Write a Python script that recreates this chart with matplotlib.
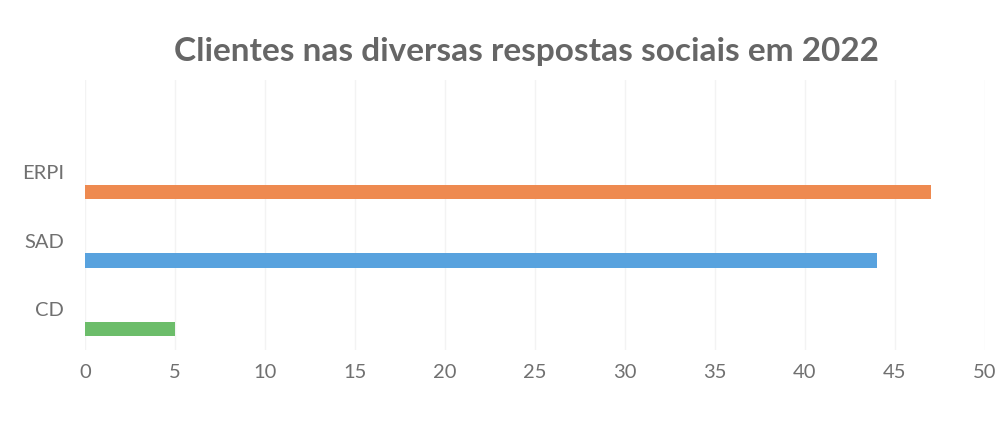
import numpy as np
import matplotlib.pyplot as plt

# data
categorias = ['CD', 'SAD', 'ERPI']
clientes = [5, 44, 47]
cores = ['#6CBD6A', '#58A2DE', '#EE8A50']
x_ticks = list(range(0, 55, 5))

plt.rcParams['font.family'] = ['Lato', 'DejaVu Sans']

fig = plt.figure(figsize=(9.99, 4.45), dpi=100)
ax = fig.add_axes([85 / 999, 1 - 350 / 445, (985 - 85) / 999, 270 / 445])

pos = np.arange(len(categorias))
# bars sit below their category label, like the excel original
ax.barh(pos - 0.29, clientes, height=0.21, color=cores)

ax.set_xlim(0, 50)
ax.set_ylim(-0.6, 3.35)
ax.set_xticks(x_ticks)
ax.set_yticks(pos)
ax.set_yticklabels(categorias)
ax.tick_params(length=0, labelsize=14.5, labelcolor='#707070')
ax.tick_params(axis='x', pad=10)
ax.tick_params(axis='y', pad=15)
ax.grid(axis='x', color='#F3F3F3', linewidth=1)
ax.set_axisbelow(True)
for s in ax.spines.values():
    s.set_visible(False)

fig.text(0.527, 0.885, 'Clientes nas diversas respostas sociais em 2022',
         ha='center', va='center', fontsize=24, fontweight='bold', color='#666666')

fig.savefig('out.png', dpi=100)
